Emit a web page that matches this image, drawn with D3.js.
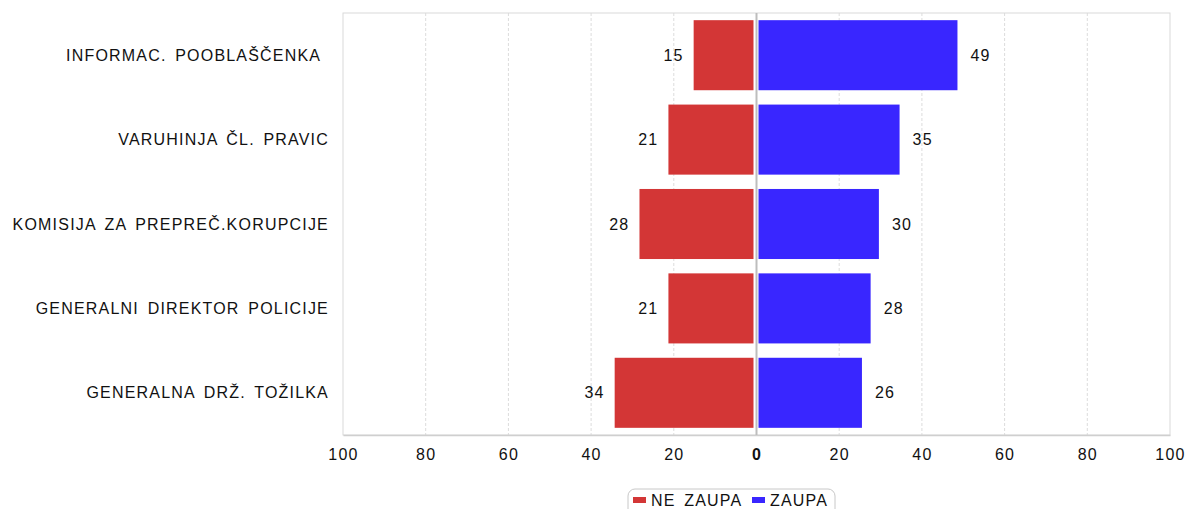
<!DOCTYPE html>
<html>
<head>
<meta charset="utf-8">
<script src="https://cdn.jsdelivr.net/npm/d3@7"></script>
<style>
  body { margin: 0; background: #fff; }
  text { font-family: "Liberation Sans", Arial, sans-serif; fill: #111; font-size: 16px;
         letter-spacing: 1.2px; word-spacing: 3px; white-space: pre; }
</style>
</head>
<body>
<div id="chart"></div>
<script>
// data
const categories = ["INFORMAC. POOBLAŠČENKA ", "VARUHINJA ČL. PRAVIC", "KOMISIJA ZA PREPREČ.KORUPCIJE",
                    "GENERALNI DIREKTOR POLICIJE", "GENERALNA DRŽ. TOŽILKA"];
const neZaupa = [15.2, 21.3, 28.3, 21.3, 34.3];
const zaupa = [48.6, 34.6, 29.6, 27.6, 25.5];
const ticks = [-100, -80, -60, -40, -20, 0, 20, 40, 60, 80, 100];
const seriesNames = ["NE ZAUPA", "ZAUPA"];
const colors = ["#d33636", "#3926ff"];

const width = 1189, height = 509;
const margin = {top: 13, right: 19, bottom: 74, left: 343};

const svg = d3.select("#chart").append("svg")
    .attr("width", width).attr("height", height);

const x = d3.scaleLinear().domain([-100, 100]).range([margin.left, width - margin.right]);
const y = d3.scaleBand().domain(categories)
    .range([margin.top, height - margin.bottom]).paddingInner(0.17).paddingOuter(0.085);

const plotTop = margin.top, plotBottom = height - margin.bottom;

// grid
svg.append("g").selectAll("line")
    .data(ticks.filter(t => Math.abs(t) !== 100 && t !== 0))
    .join("line")
    .attr("x1", d => x(d)).attr("x2", d => x(d))
    .attr("y1", plotTop).attr("y2", plotBottom)
    .attr("stroke", "#dcdcdc").attr("stroke-dasharray", "3,2");

// plot frame
svg.append("rect")
    .attr("x", x(-100)).attr("y", plotTop)
    .attr("width", x(100) - x(-100)).attr("height", plotBottom - plotTop)
    .attr("fill", "none").attr("stroke", "#d9d9d9");

// bottom axis
const xAxis = svg.append("g").attr("transform", `translate(0,${plotBottom})`)
    .call(d3.axisBottom(x).tickValues(ticks).tickSize(0).tickPadding(14).tickFormat(d => Math.abs(d)));
xAxis.select(".domain").attr("stroke", "#cfcfcf").attr("stroke-width", 1.5);
xAxis.selectAll("text").attr("font-size", null).attr("font-family", null)
    .style("fill", "#111")
    .style("font-weight", d => d === 0 ? "bold" : "normal");

// bars
svg.append("g").selectAll("rect")
    .data(categories)
    .join("rect")
    .attr("x", (d, i) => x(-neZaupa[i]))
    .attr("y", d => y(d))
    .attr("width", (d, i) => x(0) - 3 - x(-neZaupa[i]))
    .attr("height", y.bandwidth())
    .attr("fill", colors[0]);

svg.append("g").selectAll("rect")
    .data(categories)
    .join("rect")
    .attr("x", x(0) + 2)
    .attr("y", d => y(d))
    .attr("width", (d, i) => x(zaupa[i]) - x(0) - 2)
    .attr("height", y.bandwidth())
    .attr("fill", colors[1]);

// zero line
svg.append("line")
    .attr("x1", x(0)).attr("x2", x(0))
    .attr("y1", plotTop).attr("y2", plotBottom)
    .attr("stroke", "#bdbdbd").attr("stroke-width", 2);

// value labels
svg.append("g").selectAll("text")
    .data(categories)
    .join("text")
    .attr("x", (d, i) => x(-neZaupa[i]) - 10)
    .attr("y", d => y(d) + y.bandwidth() / 2)
    .attr("dy", "0.35em").attr("text-anchor", "end")
    .text((d, i) => Math.round(neZaupa[i]));

svg.append("g").selectAll("text")
    .data(categories)
    .join("text")
    .attr("x", (d, i) => x(zaupa[i]) + 13)
    .attr("y", d => y(d) + y.bandwidth() / 2)
    .attr("dy", "0.35em")
    .text((d, i) => Math.round(zaupa[i]));

// category labels
svg.append("g").selectAll("text")
    .data(categories)
    .join("text")
    .attr("x", margin.left - 14)
    .attr("y", d => y(d) + y.bandwidth() / 2)
    .attr("dy", "0.35em").attr("text-anchor", "end")
    .text(d => d);

// legend
const legend = svg.append("g");
legend.append("rect")
    .attr("x", 628).attr("y", 489).attr("width", 207).attr("height", 30)
    .attr("rx", 7).attr("fill", "#fff").attr("stroke", "#c8c8c8");
const items = [{name: seriesNames[0], color: colors[0], x: 633}, {name: seriesNames[1], color: colors[1], x: 752}];
items.forEach(it => {
    legend.append("rect").attr("x", it.x).attr("y", 497).attr("width", 13).attr("height", 6).attr("fill", it.color);
    legend.append("text").attr("x", it.x + 18).attr("y", 500).attr("dy", "0.35em").text(it.name);
});
</script>
</body>
</html>
